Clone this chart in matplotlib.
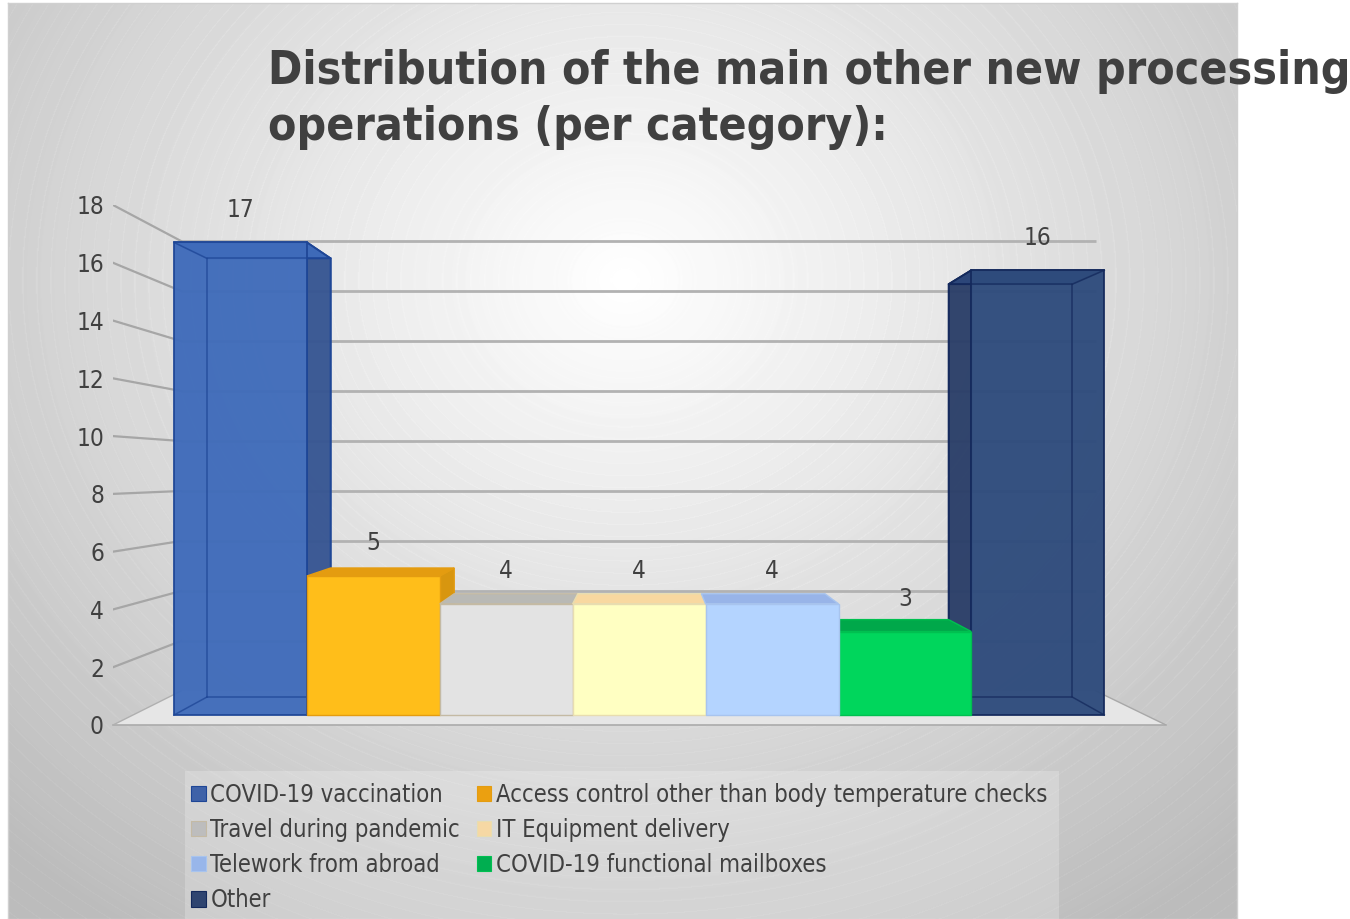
import numpy as np
import matplotlib
matplotlib.use("Agg")
import matplotlib.pyplot as plt
from matplotlib.patches import Polygon, Patch, Rectangle

# ---- data ----
categories = ["COVID-19 vaccination", "Access control other than body temperature checks",
              "Travel during pandemic", "IT Equipment delivery", "Telework from abroad",
              "COVID-19 functional mailboxes", "Other"]
values = [17, 5, 4, 4, 4, 3, 16]
y_ticks = [0, 2, 4, 6, 8, 10, 12, 14, 16, 18]
title = "Distribution of the main other new processing\noperations (per category):"

# ---- styles: front, top, side, edge, alpha ----
front_c = ["#3F6BBA", "#FFBE1A", "#E3E3E3", "#FFFFC2", "#B4D4FF", "#00D65C", "#2E4B7C"]
top_c   = ["#3F6BBA", "#E49C10", "#B9B9B5", "#F8D8A0", "#98B4E8", "#00A84A", "#2C477A"]
side_c  = ["#365592", "#D8960F", "#B9B9B5", "#F8D8A0", "#98B4E8", "#00A84A", "#2A3E68"]
edge_c  = ["#1E4696", "#E49C10", "#C4BAA4", "#E8DDB0", "#A8C4EE", "#00C050", "#14295C"]
legend_c = ["#3F62A8", "#EBA010", "#BDBDBD", "#F6D8A4", "#98B6EA", "#00AE50", "#2F4470"]
text_c = "#404040"
W, H = 1350, 919

plt.rcParams["font.family"] = "DejaVu Sans"
plt.rcParams["font.stretch"] = "condensed"
fig = plt.figure(figsize=(W / 100, H / 100), dpi=100, facecolor="white")

# ---- background panel: radial gradient with faint rings ----
L, R, T, B = 8, 1237, 3, 919
bg = fig.add_axes([L / W, 1 - B / H, (R - L) / W, (B - T) / H], zorder=0)
yy, xx = np.mgrid[T:B, L:R]
r = np.hypot(xx - 625, (yy - 280) * 1.15)
img = np.maximum(255 - 0.075 * r, 188)
img = img + 4 * ((r % 14) < 1.2) * np.clip(r / 300, 0, 1)
bg.imshow(np.clip(img, 0, 255), cmap="gray", vmin=0, vmax=255, aspect="auto", interpolation="bilinear")
bg.set_xticks([]); bg.set_yticks([])
for s in bg.spines.values():
    s.set_color("#D0D0D0"); s.set_linewidth(1)

# ---- main axes: y scale from tick labels, x in category units ----
AL, AR, AT, AB = 113, 1166, 205, 725
ax = fig.add_axes([AL / W, 1 - AB / H, (AR - AL) / W, (AB - AT) / H], zorder=1)
ax.patch.set_visible(False)
FX0, FXS, FY0, FYS = 174, 132.9, 715, 27.8      # front plane of the bars
BX0, BXS, BY0, BYS = 207, 123.6, 697, 25.8      # back plane of the bars
WX0, WXS, WY0, WYS = 181, 130.7, 691, 25.0      # back wall
ax.set_xlim((AL - FX0) / FXS, (AR - FX0) / FXS)
ax.set_ylim(0, 18)
for s in ax.spines.values():
    s.set_visible(False)
ax.set_xticks([])
ax.set_yticks(y_ticks)
ax.tick_params(axis="y", length=0, pad=6.5, labelsize=17.5, labelcolor=text_c)


def pt(i, v, plane):
    """category edge i, value v on a plane -> axes data coordinates"""
    x0, xs, y0, ys = plane
    return ((x0 + xs * i - FX0) / FXS, (AB - (y0 - ys * v)) / (AB - AT) * 18)


FRONT = (FX0, FXS, FY0, FYS)
BACK = (BX0, BXS, BY0, BYS)
WALL = (WX0, WXS, WY0, WYS)
n = len(values)

# floor
floor = Polygon([(ax.get_xlim()[0], 0), (ax.get_xlim()[1], 0), pt(n, 0, WALL), pt(0, 0, WALL)],
                closed=True, facecolor="#E6E6E6", edgecolor="none", zorder=1)
ax.add_patch(floor)
ax.plot(ax.get_xlim(), [0, 0], color="#ABABAB", lw=1.2, zorder=1.1, clip_on=False)
ax.plot([ax.get_xlim()[0], pt(0, 0, WALL)[0]], [0, pt(0, 0, WALL)[1]], color="#B0B0B0", lw=1, zorder=1.1)
ax.plot([ax.get_xlim()[1], pt(n, 0, WALL)[0]], [0, pt(n, 0, WALL)[1]], color="#A8A8A8", lw=1, zorder=1.1)

# wall gridlines and side-wall lines
for t in y_ticks[1:]:
    a, b = pt(0, t, WALL), pt(n, t, WALL)
    ax.plot([a[0], b[0]], [a[1], b[1]], color="#B2B2B2", lw=2.0, zorder=1.2, solid_capstyle="butt")
    ax.plot([ax.get_xlim()[0], a[0]], [t, a[1]], color="#A6A6A6", lw=1.6, zorder=1.2)


def draw_bar(i, v, z):
    fc, tc, sc, ec = front_c[i], top_c[i], side_c[i], edge_c[i]
    translucent = i in (0, n - 1)
    alpha = 0.96 if translucent else 1
    lw = 1.3 if translucent else 1
    fl, fr = pt(i, v, FRONT), pt(i + 1, v, FRONT)
    bl, br = pt(i, v, BACK), pt(i + 1, v, BACK)
    fl0, fr0 = pt(i, 0, FRONT), pt(i + 1, 0, FRONT)
    bl0, br0 = pt(i, 0, BACK), pt(i + 1, 0, BACK)
    if i == n - 1:  # left side face visible
        ax.add_patch(Polygon([bl, fl, fl0, bl0], closed=True, fc=sc, ec=ec, lw=lw, alpha=alpha, zorder=z))
    elif i <= 1:    # right side face visible
        ax.add_patch(Polygon([fr, br, br0, fr0], closed=True, fc=sc, ec=ec, lw=lw, alpha=alpha, zorder=z))
    ax.add_patch(Polygon([fl, fr, br, bl], closed=True, fc=tc, ec=ec, lw=lw, alpha=alpha, zorder=z + 0.1))
    ax.add_patch(Polygon([fl, fr, fr0, fl0], closed=True, fc=fc, ec=ec, lw=lw, alpha=alpha, zorder=z + 0.2))
    if translucent:  # inner edges seen through the bar
        pts = [bl0, bl, br, br0, bl0]
        ax.plot(*zip(*pts), color=ec, lw=1.1, alpha=0.75, zorder=z + 0.3)
        for a, b in ((fl0, bl0), (fr0, br0), (fl, bl), (fr, br)):
            ax.plot([a[0], b[0]], [a[1], b[1]], color=ec, lw=1.1, alpha=0.75, zorder=z + 0.3)


# painter's order: outer bars first, from both sides towards the middle
for z, i in enumerate([0, 1, 2, 3, 6, 5, 4]):
    draw_bar(i, values[i], 2 + z)

# value labels above the bars
for i, v in enumerate(values):
    x, y = pt(i + 0.5, v, FRONT)
    ax.annotate(str(v), (x, y), xytext=(0, 32.5 * 0.72), textcoords="offset points",
                ha="center", va="center", fontsize=17.5, color=text_c, zorder=20, annotation_clip=False)

# title
fig.text(268 / W, 1 - 49 / H, title, fontsize=33.25, fontweight="bold", color=text_c,
         ha="left", va="top", linespacing=1.31, zorder=5)

# legend panel
fig.patches.append(Rectangle((185 / W, 0), (1059 - 185) / W, 1 - 771 / H, transform=fig.transFigure,
                             facecolor="white", alpha=0.22, edgecolor="none", zorder=0.5, figure=fig))
# legend (row-first reading order, filled by columns)
order = [0, 2, 4, 6, 1, 3, 5]
handles = [Patch(facecolor=legend_c[i], edgecolor=edge_c[i], linewidth=0.8) for i in order]
labels = [categories[i] for i in order]
leg = ax.legend(handles, labels, ncol=2, loc="upper left",
                bbox_to_anchor=(189 / W, 1 - 780.5 / H), bbox_transform=fig.transFigure,
                fontsize=17.1, labelcolor=text_c, frameon=False,
                borderaxespad=0, borderpad=0.1, labelspacing=0.47, handlelength=0.6, handleheight=0.6,
                handletextpad=0.2, columnspacing=0.72)
leg.set_zorder(30)

fig.savefig("out.png", dpi=100)
